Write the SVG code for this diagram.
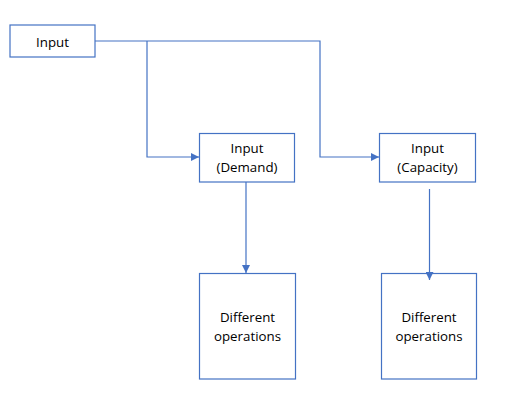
<svg xmlns="http://www.w3.org/2000/svg" width="532" height="417" viewBox="0 0 532 417">
<style>
.box{fill:#fff;stroke:#4472c4;stroke-width:1.2}
.t{font-family:"Open Sans","Liberation Sans",sans-serif;font-size:13.3px;fill:#000;text-anchor:middle}
.c{fill:none;stroke:#4472c4;stroke-width:1.2}
</style>
<defs>
<marker id="ah" viewBox="0 0 10 10" refX="10" refY="5" markerWidth="8" markerHeight="8" markerUnits="userSpaceOnUse" orient="auto">
<path d="M0,0 L10,5 L0,10 z" fill="#4472c4"/>
</marker>
</defs>
<rect width="532" height="417" fill="#fff"/>
<g id="input">
<rect class="box" x="10" y="25" width="85" height="32"/>
<text class="t" x="52.5" y="46.5">Input</text>
</g>
<g id="demand">
<rect class="box" x="199.5" y="133.5" width="95" height="48.5"/>
<text class="t" x="247" y="153">Input</text>
<text class="t" x="247" y="172">(Demand)</text>
</g>
<g id="capacity">
<rect class="box" x="379.5" y="133.5" width="96" height="48.5"/>
<text class="t" x="427.5" y="153">Input</text>
<text class="t" x="427.5" y="172">(Capacity)</text>
</g>
<g id="ops1">
<rect class="box" x="199.5" y="273.5" width="96" height="105.5"/>
<text class="t" x="247.5" y="322">Different</text>
<text class="t" x="247.5" y="340.5">operations</text>
</g>
<g id="ops2">
<rect class="box" x="381.5" y="273.5" width="95" height="105.5"/>
<text class="t" x="429" y="322">Different</text>
<text class="t" x="429" y="340.5">operations</text>
</g>
<g id="connectors">
<path class="c" d="M95,41 H320 V157 H379" marker-end="url(#ah)"/>
<path class="c" d="M147,41 V157 H199" marker-end="url(#ah)"/>
<path class="c" d="M246,182 V273" marker-end="url(#ah)"/>
<path class="c" d="M429.5,189 V280" marker-end="url(#ah)"/>
</g>
</svg>
